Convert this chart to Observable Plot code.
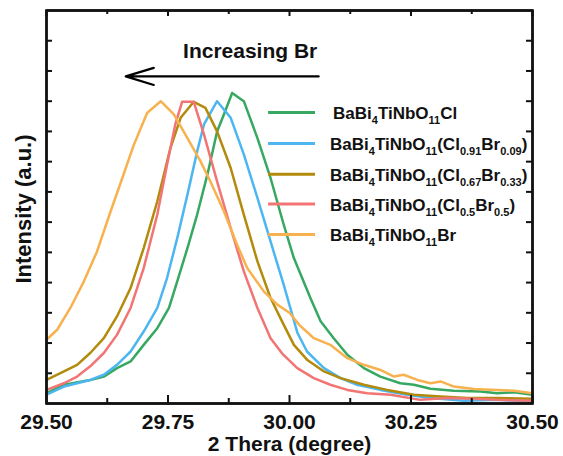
<!DOCTYPE html>
<html><head><meta charset="utf-8">
<script src="https://cdn.jsdelivr.net/npm/d3@7"></script>
<script src="https://cdn.jsdelivr.net/npm/@observablehq/plot@0.6"></script>
<style>
body{margin:0;background:#fff;overflow:hidden}
</style>
</head><body><div id="chart"></div>
<script>
// ---- data ----
const seriesNames = [
  "BaBi_{4}TiNbO_{11}Cl",
  "BaBi_{4}TiNbO_{11}(Cl_{0.91}Br_{0.09})",
  "BaBi_{4}TiNbO_{11}(Cl_{0.67}Br_{0.33})",
  "BaBi_{4}TiNbO_{11}(Cl_{0.5}Br_{0.5})",
  "BaBi_{4}TiNbO_{11}Br"
];
const seriesColors = ["#36a862", "#4db6f0", "#b38b0c", "#f27474", "#f8b14f"];

const clX = [29.5, 29.536, 29.59, 29.618, 29.645, 29.673, 29.70, 29.728, 29.752, 29.769, 29.79, 29.81, 29.831, 29.851, 29.865, 29.882, 29.906, 29.934, 29.961, 29.988, 30.009, 30.043, 30.064, 30.091, 30.119, 30.153, 30.187, 30.228, 30.256, 30.29, 30.338, 30.393, 30.427, 30.462, 30.5];
const clY = [0.034, 0.062, 0.078, 0.089, 0.117, 0.139, 0.194, 0.249, 0.316, 0.404, 0.514, 0.625, 0.757, 0.9, 0.956, 1.027, 1.0, 0.878, 0.746, 0.592, 0.481, 0.349, 0.272, 0.216, 0.161, 0.117, 0.089, 0.067, 0.062, 0.049, 0.042, 0.040, 0.034, 0.037, 0.029];

const br09X = [29.5, 29.536, 29.59, 29.618, 29.645, 29.673, 29.70, 29.728, 29.748, 29.769, 29.79, 29.81, 29.824, 29.851, 29.879, 29.906, 29.934, 29.961, 29.988, 30.016, 30.036, 30.071, 30.105, 30.139, 30.187, 30.242, 30.29, 30.359, 30.427, 30.5];
const br09Y = [0.029, 0.056, 0.078, 0.095, 0.128, 0.172, 0.238, 0.316, 0.415, 0.547, 0.691, 0.834, 0.923, 1.0, 0.945, 0.824, 0.68, 0.536, 0.393, 0.235, 0.172, 0.117, 0.084, 0.062, 0.045, 0.029, 0.018, 0.009, 0.012, 0.007];

const br33X = [29.5, 29.536, 29.563, 29.59, 29.618, 29.645, 29.673, 29.70, 29.728, 29.755, 29.776, 29.803, 29.827, 29.851, 29.879, 29.906, 29.934, 29.961, 29.988, 30.009, 30.036, 30.071, 30.105, 30.153, 30.201, 30.256, 30.311, 30.366, 30.427, 30.5];
const br33Y = [0.078, 0.106, 0.128, 0.167, 0.216, 0.288, 0.382, 0.514, 0.669, 0.845, 0.945, 0.998, 0.978, 0.9, 0.779, 0.625, 0.47, 0.349, 0.261, 0.194, 0.145, 0.106, 0.084, 0.062, 0.045, 0.029, 0.023, 0.018, 0.018, 0.016];

const br50X = [29.5, 29.536, 29.563, 29.59, 29.618, 29.645, 29.673, 29.70, 29.728, 29.748, 29.765, 29.779, 29.803, 29.824, 29.851, 29.879, 29.906, 29.934, 29.961, 29.985, 30.016, 30.05, 30.084, 30.119, 30.16, 30.208, 30.269, 30.324, 30.379, 30.427, 30.5];
const br50Y = [0.045, 0.067, 0.089, 0.123, 0.167, 0.227, 0.316, 0.448, 0.625, 0.79, 0.923, 0.998, 0.998, 0.89, 0.735, 0.58, 0.437, 0.316, 0.216, 0.165, 0.117, 0.084, 0.062, 0.045, 0.034, 0.029, 0.012, 0.018, 0.016, 0.012, 0.009];

const brX = [29.5, 29.522, 29.549, 29.577, 29.604, 29.632, 29.656, 29.68, 29.707, 29.735, 29.762, 29.79, 29.817, 29.837, 29.865, 29.892, 29.913, 29.947, 29.975, 30.0, 30.02, 30.05, 30.084, 30.119, 30.153, 30.187, 30.215, 30.235, 30.263, 30.29, 30.311, 30.338, 30.379, 30.427, 30.462, 30.5];
const brY = [0.211, 0.244, 0.316, 0.404, 0.503, 0.636, 0.746, 0.857, 0.961, 1.0, 0.956, 0.878, 0.801, 0.735, 0.636, 0.526, 0.448, 0.371, 0.327, 0.30, 0.26, 0.216, 0.194, 0.15, 0.128, 0.111, 0.089, 0.095, 0.078, 0.067, 0.073, 0.056, 0.048, 0.045, 0.042, 0.034];

const xMajorTicks = [29.5, 29.75, 30.0, 30.25, 30.5];
const xMinorTicks = [29.625, 29.875, 30.125, 30.375];
const yTicks = [0.1, 0.2, 0.3, 0.4, 0.5, 0.6, 0.7, 0.8, 0.9, 1.0, 1.1, 1.2];

const xLabel = "2 Thera (degree)";
const yLabel = "Intensity (a.u.)";
const annotText = "Increasing Br";

// ---- build table ----
const seriesX = [clX, br09X, br33X, br50X, brX];
const seriesY = [clY, br09Y, br33Y, br50Y, brY];
const rows = [];
seriesNames.forEach((name, i) => {
  seriesX[i].forEach((x, j) => rows.push({series: name, x, y: seriesY[i][j]}));
});

const xDomain = [29.5, 30.5], yDomain = [0, 1.3];
const boxPath = [[xDomain[0], yDomain[0]], [xDomain[1], yDomain[0]], [xDomain[1], yDomain[1]], [xDomain[0], yDomain[1]], [xDomain[0], yDomain[0]]];
const arrowSpec = [{x1: 30.06, y1: 1.082, x2: 29.663, y2: 1.082}];
const annotSpec = [{x: 29.781, y: 1.142, text: annotText}];

const W = 563, H = 456, mL = 46, mR = 31, mT = 10, mB = 53;
const font = "Liberation Sans, Arial, sans-serif";
const frameW = W - mL - mR, frameH = H - mT - mB;
const pxY = (yDomain[1] - yDomain[0]) / frameH, pxX = (xDomain[1] - xDomain[0]) / frameW;

const chart = Plot.plot({
  width: W, height: H,
  marginLeft: mL, marginRight: mR, marginTop: mT, marginBottom: mB,
  style: {fontFamily: font},
  x: {domain: xDomain, axis: null},
  y: {domain: yDomain, axis: null},
  color: {domain: seriesNames, range: seriesColors},
  marks: [
    Plot.line(rows, {x: "x", y: "y", z: "series", stroke: "series", strokeWidth: 2.5}),
    Plot.text(xMajorTicks, {x: d => d, frameAnchor: "bottom", dy: 25, lineAnchor: "bottom",
      text: d => d.toFixed(2), fontSize: 21, fontWeight: "bold", fill: "#111"}),
    Plot.text([xLabel], {frameAnchor: "bottom", dy: 47, lineAnchor: "bottom", textAnchor: "middle",
      fontSize: 21, fontWeight: "bold", fill: "#111"}),
    Plot.text([yLabel], {frameAnchor: "left", dx: -16, dy: 2, rotate: -90, lineAnchor: "bottom",
      textAnchor: "middle", fontSize: 22, fontWeight: "bold", fill: "#111"}),
    Plot.arrow(arrowSpec, {x1: "x1", y1: "y1", x2: "x2", y2: "y2", stroke: "#000",
      strokeWidth: 2.2, headLength: 20, headAngle: 34}),
    Plot.text(annotSpec, {x: "x", y: "y", text: "text", textAnchor: "start", lineAnchor: "bottom",
      fontSize: 21, fontWeight: "bold", fill: "#111"}),
    // inward ticks
    Plot.ruleX(xMajorTicks, {x: d => d, y1: yDomain[0], y2: yDomain[0] + 8 * pxY, stroke: "#111", strokeWidth: 2}),
    Plot.ruleX(xMinorTicks, {x: d => d, y1: yDomain[0], y2: yDomain[0] + 5 * pxY, stroke: "#111", strokeWidth: 2}),
    Plot.ruleX(xMajorTicks, {x: d => d, y1: yDomain[1], y2: yDomain[1] - 6 * pxY, stroke: "#111", strokeWidth: 2}),
    Plot.ruleX(xMinorTicks, {x: d => d, y1: yDomain[1], y2: yDomain[1] - 4 * pxY, stroke: "#111", strokeWidth: 2}),
    Plot.ruleY(yTicks, {y: d => d, x1: xDomain[0], x2: xDomain[0] + 6 * pxX, stroke: "#111", strokeWidth: 2}),
    Plot.ruleY(yTicks, {y: d => d, x1: xDomain[1], x2: xDomain[1] - 6 * pxX, stroke: "#111", strokeWidth: 2}),
    // frame box
    Plot.line(boxPath, {stroke: "#111", strokeWidth: 2.4}),
    Plot.frame({stroke: "#111", strokeWidth: 2.4})
  ]
});

// ---- legend, placed through the chart's own scales ----
const sx = chart.scale("x"), sy = chart.scale("y");
const xs = d3.scaleLinear(sx.domain, sx.range);
const ys = d3.scaleLinear(sy.domain, sy.range);
const svg = d3.select(chart);

const legendLineX = [29.957, 30.0535];
const legendTextX = 30.0844;
const legendRowY = [0.961, 0.8585, 0.757, 0.658, 0.5577];
const lg = svg.append("g").attr("font-family", font).attr("font-weight", "bold")
  .attr("fill", "#111").attr("text-anchor", "start");
seriesNames.forEach((name, i) => {
  const y = ys(legendRowY[i]);
  lg.append("line")
    .attr("x1", xs(legendLineX[0])).attr("x2", xs(legendLineX[1]))
    .attr("y1", y).attr("y2", y)
    .attr("stroke", seriesColors[i]).attr("stroke-width", 3);
  const t = lg.append("text")
    .attr("x", xs(legendTextX) + (i === 0 ? 3 : 0)).attr("y", y + 7)
    .attr("font-size", 17).attr("text-anchor", "start");
  const parts = name.split(/(_\{[^}]*\})/).filter(s => s.length);
  let shift = 0;
  parts.forEach(p => {
    if (p.startsWith("_{")) {
      t.append("tspan").attr("dy", 5 - shift).attr("font-size", 11).text(p.slice(2, -1));
      shift = 5;
    } else {
      t.append("tspan").attr("dy", -shift).text(p);
      shift = 0;
    }
  });
});

document.getElementById("chart").append(chart);
</script>
</body></html>
